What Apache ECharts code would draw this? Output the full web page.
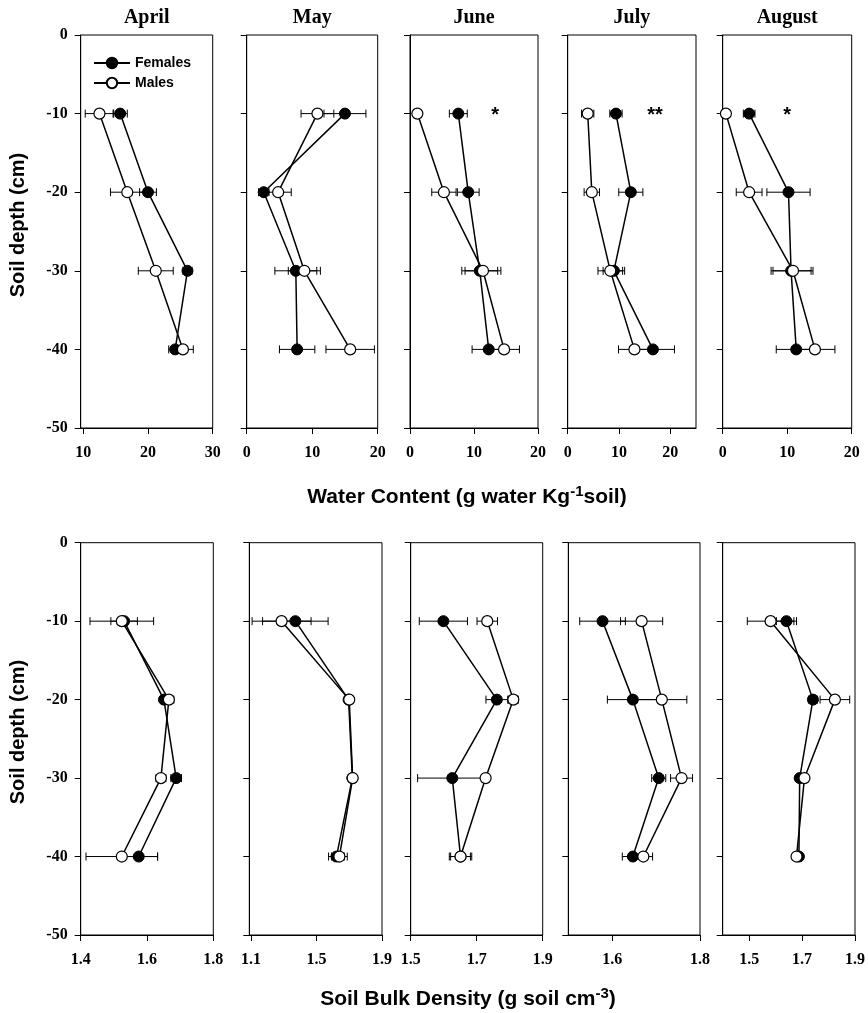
<!DOCTYPE html>
<html><head><meta charset="utf-8">
<script src="https://cdn.jsdelivr.net/npm/echarts@6/dist/echarts.min.js"></script>
<style>html,body{margin:0;padding:0;background:#fff}#c{width:868px;height:1013px}</style>
</head><body><div id="c"></div>
<script>
// ---------- data ----------
const months = ['April', 'May', 'June', 'July', 'August'];
const depths = [-10, -20, -30, -40];

// Water content (g water Kg-1 soil)
const waterFemales    = [[15.7, 20.0, 26.1, 24.2], [15.0, 2.6, 7.5, 7.7], [7.55, 9.1, 10.9, 12.3], [9.4, 12.3, 9.0, 16.6], [4.1, 10.2, 10.6, 11.4]];
const waterFemalesErr = [[1.1, 1.3, 0.7, 1.0], [3.2, 0.8, 3.2, 2.7], [1.4, 1.7, 2.8, 2.6], [1.2, 2.35, 2.1, 4.2], [0.9, 3.35, 3.1, 3.1]];
const waterMales      = [[12.5, 16.8, 21.2, 25.4], [10.8, 4.8, 8.8, 15.8], [1.15, 5.3, 11.4, 14.7], [3.9, 4.7, 8.3, 13.0], [0.5, 4.1, 10.9, 14.3]];
const waterMalesErr   = [[2.2, 2.6, 2.7, 1.6], [2.5, 2.0, 2.45, 3.7], [0.3, 1.9, 2.8, 2.4], [1.2, 1.5, 2.4, 3.1], [0.3, 2.0, 3.1, 3.1]];

// Soil bulk density (g soil cm-3)
const bulkFemales    = [[1.531, 1.651, 1.688, 1.575], [1.371, 1.696, 1.719, 1.622], [1.599, 1.761, 1.626, 1.651], [1.578, 1.647, 1.706, 1.647], [1.641, 1.741, 1.691, 1.688]];
const bulkFemalesErr = [[0.04, 0.01, 0.016, 0.057], [0.2, 0.01, 0.01, 0.048], [0.073, 0.033, 0.105, 0.03], [0.052, 0.058, 0.016, 0.024], [0.038, 0.017, 0.01, 0.01]];
const bulkMales      = [[1.524, 1.666, 1.642, 1.524], [1.287, 1.700, 1.721, 1.640], [1.732, 1.811, 1.727, 1.651], [1.667, 1.713, 1.758, 1.671], [1.581, 1.824, 1.709, 1.679]];
const bulkMalesErr   = [[0.096, 0.015, 0.015, 0.108], [0.18, 0.01, 0.01, 0.048], [0.031, 0.015, 0.01, 0.034], [0.048, 0.057, 0.025, 0.021], [0.088, 0.056, 0.012, 0.01]];

// axis ranges and tick labels
const depthMin = -50, depthMax = 0, depthStep = 10;
const waterMin = [9.6, 0, 0, 0, 0];
const waterMax = [30, 20, 20, 25, 20];
const waterTicks = [[10, 20, 30], [0, 10, 20], [0, 10, 20], [0, 10, 20], [0, 10, 20]];
const bulkMin = [1.4, 1.09, 1.5, 1.5, 1.4];
const bulkMax = [1.8, 1.9, 1.9, 1.8, 1.9];
const bulkTicks = [[1.4, 1.6, 1.8], [1.1, 1.5, 1.9], [1.5, 1.7, 1.9], [1.6, 1.8], [1.5, 1.7, 1.9]];

// significance marks (water content row)
const starMonth = [2, 3, 4];
const starX = [13.3, 17.0, 10.0];
const starDepth = [-10, -10, -10];
const starText = ['*', '**', '*'];

// ---------- layout ----------
const topRowTop = 35, topRowHeight = 393;
const botRowTop = 542.7, botRowHeight = 392.3;
const topLefts = [80.7, 246.7, 410, 567.7, 722.7];
const topWidths = [132, 131, 128, 128.3, 129];
const botLefts = [80.7, 249.3, 410.7, 568.3, 722.7];
const botWidths = [132.6, 132.7, 132, 131.7, 132.3];

const serif = '"Liberation Serif", "Times New Roman", serif';
const sans = '"Liberation Sans", Arial, sans-serif';

const grids = [], xAxes = [], yAxes = [], series = [];

function errRender(params, api) {
  const x = api.value(0), y = api.value(1), e = api.value(2);
  const a = api.coord([x - e, y]), b = api.coord([x + e, y]);
  const h = 4;
  const st = { stroke: '#000', lineWidth: 1 };
  return {
    type: 'group', children: [
      { type: 'line', shape: { x1: a[0], y1: a[1], x2: b[0], y2: b[1] }, style: st },
      { type: 'line', shape: { x1: a[0], y1: a[1] - h, x2: a[0], y2: a[1] + h }, style: st },
      { type: 'line', shape: { x1: b[0], y1: b[1] - h, x2: b[0], y2: b[1] + h }, style: st }
    ]
  };
}

function addPanel(idx, left, width, top, height, xmin, xmax, ticks, fem, femErr, mal, malErr, showY) {
  grids.push({ left: left, top: top, width: width, height: height, show: true, borderColor: '#000', borderWidth: 1, containLabel: false });
  xAxes.push({
    type: 'value', gridIndex: idx, min: xmin, max: xmax,
    axisLine: { show: true, onZero: false, lineStyle: { color: '#000', width: 1 } },
    axisTick: { show: true, length: 6, inside: false, lineStyle: { color: '#000' }, customValues: ticks },
    axisLabel: { show: true, customValues: ticks, margin: 17, color: '#000', fontFamily: serif, fontWeight: 'bold', fontSize: 16,
      formatter: v => (Math.abs(v) < 5 && v !== 0 ? v.toFixed(1) : String(v)) },
    splitLine: { show: false }
  });
  yAxes.push({
    type: 'value', gridIndex: idx, min: depthMin, max: depthMax, interval: depthStep,
    axisLine: { show: true, onZero: false, lineStyle: { color: '#000', width: 1 } },
    axisTick: { show: true, length: 6, inside: false, lineStyle: { color: '#000' } },
    axisLabel: { show: showY, margin: 13, color: '#000', fontFamily: serif, fontWeight: 'bold', fontSize: 16 },
    splitLine: { show: false }
  });
  const common = { xAxisIndex: idx, yAxisIndex: idx };
  series.push(Object.assign({
    type: 'custom', renderItem: errRender, encode: { x: 0, y: 1 }, clip: false, z: 2, silent: true,
    data: depths.map((d, i) => [fem[i], d, femErr[i]])
  }, common));
  series.push(Object.assign({
    type: 'custom', renderItem: errRender, encode: { x: 0, y: 1 }, clip: false, z: 2, silent: true,
    data: depths.map((d, i) => [mal[i], d, malErr[i]])
  }, common));
  series.push(Object.assign({
    name: 'Females', type: 'line', z: 3, symbol: 'circle', symbolSize: 11, showSymbol: true,
    lineStyle: { color: '#000', width: 1.5 }, itemStyle: { color: '#000', borderColor: '#000', borderWidth: 1 },
    data: depths.map((d, i) => [fem[i], d]), animation: false
  }, common));
  series.push(Object.assign({
    name: 'Males', type: 'line', z: 4, symbol: 'circle', symbolSize: 11, showSymbol: true,
    lineStyle: { color: '#000', width: 1.5 }, itemStyle: { color: '#fff', borderColor: '#000', borderWidth: 1.2 },
    data: depths.map((d, i) => [mal[i], d]), animation: false
  }, common));
}

months.forEach((m, k) => {
  addPanel(k, topLefts[k], topWidths[k], topRowTop, topRowHeight, waterMin[k], waterMax[k], waterTicks[k],
    waterFemales[k], waterFemalesErr[k], waterMales[k], waterMalesErr[k], k === 0);
});
months.forEach((m, k) => {
  addPanel(5 + k, botLefts[k], botWidths[k], botRowTop, botRowHeight, bulkMin[k], bulkMax[k], bulkTicks[k],
    bulkFemales[k], bulkFemalesErr[k], bulkMales[k], bulkMalesErr[k], k === 0);
});

starMonth.forEach((k, j) => {
  series.push({
    type: 'custom', xAxisIndex: k, yAxisIndex: k, clip: false, z: 5, silent: true, encode: { x: 0, y: 1 },
    data: [[starX[j], starDepth[j]]],
    renderItem: (params, api) => {
      const p = api.coord([api.value(0), api.value(1)]);
      return { type: 'text', x: p[0], y: p[1] + 2, style: { text: starText[j], fill: '#000', font: 'bold 20px ' + sans, align: 'center', verticalAlign: 'middle' } };
    }
  });
});

const titleRich = {
  b: { font: 'bold 21px ' + sans, fill: '#000', lineHeight: 26, verticalAlign: 'middle' },
  sup: { font: 'bold 15px ' + sans, fill: '#000', lineHeight: 13, verticalAlign: 'top' }
};

const graphics = [];
months.forEach((m, k) => {
  graphics.push({ type: 'text', x: topLefts[k] + topWidths[k] / 2, y: 18,
    style: { text: m, fill: '#000', font: 'bold 20px ' + serif, align: 'center', verticalAlign: 'middle' } });
});
graphics.push({ type: 'text', x: 18, y: 225, rotation: Math.PI / 2,
  style: { text: 'Soil depth (cm)', fill: '#000', font: 'bold 20px ' + sans, align: 'center', verticalAlign: 'middle' } });
graphics.push({ type: 'text', x: 18, y: 732, rotation: Math.PI / 2,
  style: { text: 'Soil depth (cm)', fill: '#000', font: 'bold 20px ' + sans, align: 'center', verticalAlign: 'middle' } });
graphics.push({ type: 'text', x: 467, y: 497,
  style: { text: '{b|Water Content (g water Kg}{sup|-1}{b|soil)}', align: 'center', verticalAlign: 'middle', rich: titleRich } });
graphics.push({ type: 'text', x: 468, y: 999,
  style: { text: '{b|Soil Bulk Density (g soil cm}{sup|-3}{b|)}', align: 'center', verticalAlign: 'middle', rich: titleRich } });

const chart = echarts.init(document.getElementById('c'), null, { renderer: 'canvas' });
chart.setOption({
  animation: false,
  backgroundColor: '#fff',
  grid: grids, xAxis: xAxes, yAxis: yAxes, series: series,
  legend: {
    data: ['Females', 'Males'], left: 88, top: 51, orient: 'vertical', itemWidth: 36, itemHeight: 13, itemGap: 6,
    textStyle: { fontFamily: sans, fontWeight: 'bold', fontSize: 14, color: '#000' }
  },
  graphic: graphics
});
</script></body></html>
